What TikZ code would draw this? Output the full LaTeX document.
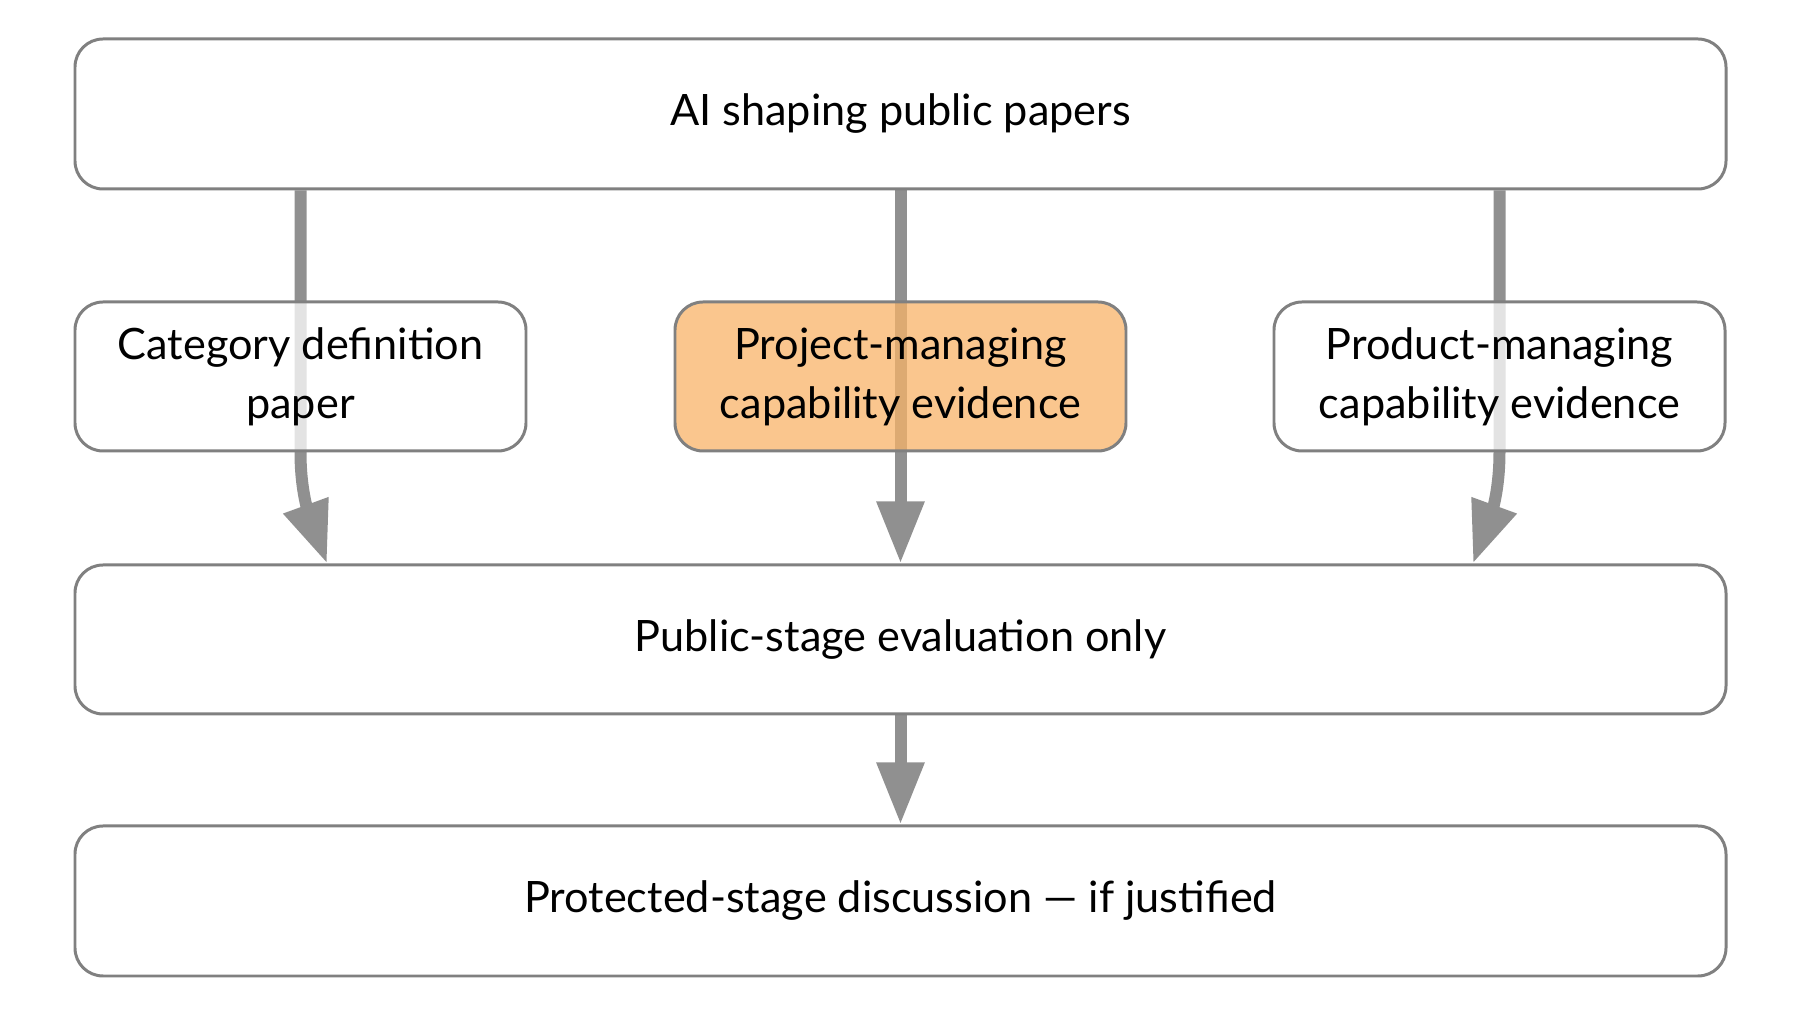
\documentclass[tikz,border=0pt]{standalone}
\usepackage{fontspec}
\setmainfont{Lato}
\usetikzlibrary{arrows.meta,backgrounds}

\definecolor{cborder}{RGB}{128,128,128}
\definecolor{carrow}{RGB}{144,144,144}
\definecolor{corange}{RGB}{248,179,104}

\begin{document}
\begin{tikzpicture}[
        box/.style={rectangle,rounded corners=0.28cm,draw=cborder,line width=0.85pt,
          fill=white,fill opacity=0.75,text opacity=1,align=center,
          minimum height=1.5cm,inner sep=0pt,
          font=\fontsize{12.3}{16.8}\selectfont},
        hlbox/.style={box,fill=corange},
        arr/.style={draw=carrow,line width=0.12cm,-{Triangle[length=6.2mm,width=4.5mm]}}]
      \useasboundingbox (0,0) rectangle (18,-10.14);
      \node[box,minimum width=16.51cm] (ai) at (9.005,-1.14) {AI shaping public papers};
      \foreach \x/\nm/\sty/\txt in {3.005/cat/box/{Category definition\\paper},
          9.005/proj/hlbox/{Project-managing\\capability evidence},
          14.995/prod/box/{Product-managing\\capability evidence}}
        \node[\sty,minimum width=4.51cm,minimum height=1.49cm] (\nm) at (\x,-3.765) {\txt};
      \node[box,minimum width=16.51cm,minimum height=1.49cm] (pub) at (9.005,-6.395) {Public-stage evaluation only};
      \node[box,minimum width=16.51cm] (prot) at (9.005,-9.01) {Protected-stage discussion --- if justified};
      \coordinate[xshift=-5.735cm] (pl) at (pub.north);
      \coordinate[xshift=5.725cm] (pr) at (pub.north);
      \begin{pgfonlayer}{background}
        \draw[arr] (ai.south -| cat.center) -- (cat.south) to[out=-90,in=110] (pl);
        \draw[arr] (ai.south) -- (pub.north);
        \draw[arr] (ai.south -| prod.center) -- (prod.south) to[out=-90,in=70] (pr);
        \draw[arr] (pub.south) -- (prot.north);
      \end{pgfonlayer}
    \end{tikzpicture}
\end{document}
